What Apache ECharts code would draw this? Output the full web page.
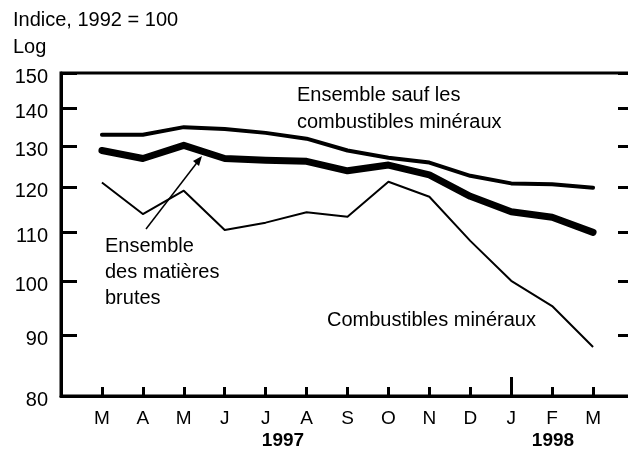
<!DOCTYPE html>
<html>
<head>
<meta charset="utf-8">
<script src="https://cdn.jsdelivr.net/npm/echarts@6/dist/echarts.min.js"></script>
<style>
  html, body { margin: 0; padding: 0; background: #fff; }
  #chart { width: 628px; height: 456px; }
</style>
</head>
<body>
<div id="chart"></div>
<script>
var months = ['M', 'A', 'M', 'J', 'J', 'A', 'S', 'O', 'N', 'D', 'J', 'F', 'M'];
var yTicks = [80, 90, 100, 110, 120, 130, 140, 150];

// indices, 1992 = 100
var sansCombustibles = [133, 133, 135, 134.5, 133.5, 132, 129, 127.2, 126, 122.8, 121, 120.8, 120];
var matieresBrutes = [129, 127, 130.3, 127, 126.6, 126.3, 124, 125.4, 123, 118, 114.5, 113.3, 110];
var combustibles = [121.2, 114, 119.3, 110.5, 112.1, 114.4, 113.4, 121.4, 117.9, 108.2, 100.1, 95.3, 88];

// pad with an empty slot on each side
var cats = [''].concat(months, ['']);
function pad(arr) { return [null].concat(arr, [null]); }

var font = 'Liberation Sans, Arial, sans-serif';
var chart = echarts.init(document.getElementById('chart'));

function label(text, x, y, size, bold) {
  return {
    type: 'text', x: x, y: y,
    style: {
      text: text, fill: '#000', textVerticalAlign: 'middle',
      font: (bold ? 'bold ' : '') + size + 'px ' + font
    }
  };
}

var option = {
  animation: false,
  backgroundColor: '#fff',
  textStyle: { fontFamily: font, color: '#000' },
  grid: {
    left: 61, width: 573, top: 73, bottom: 60,
    outerBoundsMode: 'none',
    show: true, borderColor: '#000', borderWidth: 3
  },
  xAxis: [{
    type: 'category',
    data: cats,
    boundaryGap: false,
    axisLine: { lineStyle: { color: '#000', width: 3 } },
    axisTick: {
      inside: true, length: 9, lineStyle: { color: '#000', width: 3 },
      interval: function(i, v) { return v !== ''; }
    },
    axisLabel: { color: '#000', fontSize: 19, fontFamily: font, margin: 13, interval: 0 },
    splitLine: { show: false }
  }, {
    // taller tick at the start of 1998
    type: 'category',
    data: cats,
    boundaryGap: false,
    position: 'top',
    offset: -323,
    axisLine: { show: false },
    axisTick: {
      inside: false, length: 19, lineStyle: { color: '#000', width: 3 },
      interval: function(i) { return i === 11; }
    },
    axisLabel: { show: false },
    splitLine: { show: false }
  }],
  yAxis: [{
    type: 'log',
    logBase: 10,
    min: 80,
    max: 150,
    position: 'left',
    axisLine: { show: true, lineStyle: { color: '#000', width: 3 } },
    axisTick: { show: true, inside: true, length: 16, customValues: yTicks, lineStyle: { color: '#000', width: 3 } },
    axisLabel: {
      color: '#000', fontSize: 20, fontFamily: font, margin: 13, customValues: yTicks,
      verticalAlign: 'top', lineHeight: 8
    },
    splitLine: { show: false }
  }, {
    type: 'log',
    logBase: 10,
    min: 80,
    max: 150,
    position: 'right',
    axisLine: { show: false },
    axisTick: { show: true, inside: true, length: 16, customValues: yTicks, lineStyle: { color: '#000', width: 3 } },
    axisLabel: { show: false },
    splitLine: { show: false }
  }],
  series: [{
    name: 'Ensemble sauf les combustibles minéraux',
    type: 'line',
    data: pad(sansCombustibles),
    symbol: 'none',
    lineStyle: { color: '#000', width: 4, cap: 'round', join: 'round' }
  }, {
    name: 'Ensemble des matières brutes',
    type: 'line',
    data: pad(matieresBrutes),
    symbol: 'none',
    lineStyle: { color: '#000', width: 7, cap: 'round', join: 'round' }
  }, {
    name: 'Combustibles minéraux',
    type: 'line',
    data: pad(combustibles),
    symbol: 'none',
    lineStyle: { color: '#000', width: 2, join: 'round' }
  }],
  graphic: [
    label('Indice, 1992 = 100', 13, 20, 20),
    label('Log', 13, 47, 20),
    label('Ensemble sauf les', 297, 95, 20),
    label('combustibles minéraux', 297, 122, 20),
    label('Ensemble', 105, 246, 20),
    label('des matières', 105, 272, 20),
    label('brutes', 105, 298, 20),
    label('Combustibles minéraux', 327, 320, 20),
    {
      type: 'group',
      children: [
        { type: 'text', x: 283, y: 441, style: { text: '1997', fill: '#000', textAlign: 'center', textVerticalAlign: 'middle', font: 'bold 19px ' + font } },
        { type: 'text', x: 553, y: 441, style: { text: '1998', fill: '#000', textAlign: 'center', textVerticalAlign: 'middle', font: 'bold 19px ' + font } }
      ]
    },
    // arrow pointing at the thick line
    { type: 'line', shape: { x1: 146, y1: 229, x2: 199, y2: 160 }, style: { stroke: '#000', lineWidth: 1.5 } },
    { type: 'polygon', shape: { points: [[202, 156], [193, 161], [199, 166]] }, style: { fill: '#000' } }
  ]
};

chart.setOption(option);
</script>
</body>
</html>
